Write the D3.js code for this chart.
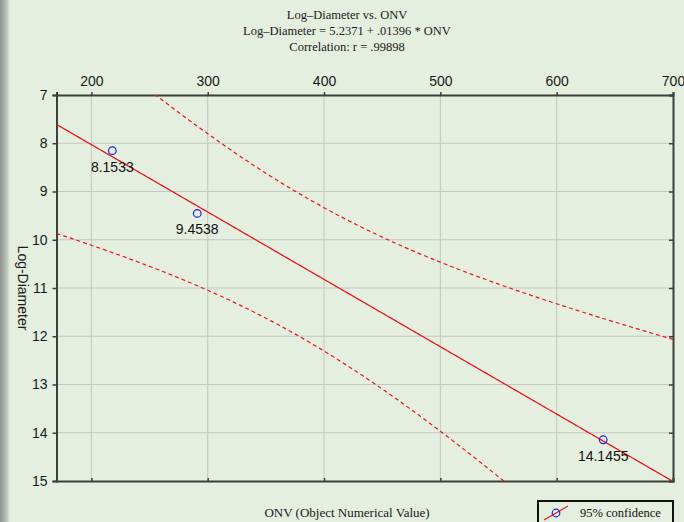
<!DOCTYPE html>
<html>
<head>
<meta charset="utf-8">
<script src="https://cdn.jsdelivr.net/npm/d3@7/dist/d3.min.js"></script>
<style>
  html, body { margin: 0; padding: 0; background: #e4efe0; }
  svg { display: block; }
</style>
</head>
<body>
<svg id="chart" width="684" height="522"></svg>
<script>
// Observations: ONV and measured log-diameter
const onv = [218, 291, 640];
const logDiameter = [8.1533, 9.4538, 14.1455];
const pointLabels = ["8.1533", "9.4538", "14.1455"];

// Fitted regression reported in the title
const intercept = 5.2371;
const slope = 0.01396;
const correlation = ".99898";
const tCrit = 12.706; // t(0.975, df = 1)

const xTicks = [200, 300, 400, 500, 600, 700];
const yTicks = [7, 8, 9, 10, 11, 12, 13, 14, 15];

const titleLines = [
  "Log\u2013Diameter vs. ONV",
  "Log\u2013Diameter = 5.2371 + .01396 * ONV",
  "Correlation: r = " + correlation
];

const W = 684, H = 522;
const m = { left: 56.5, right: 673, top: 95, bottom: 481 };

const svg = d3.select("#chart");

const x = d3.scaleLinear().domain([170, 700]).range([m.left, m.right]);
const y = d3.scaleLinear().domain([7, 15]).range([m.top, m.bottom]);

// background and left shading strip
const defs = svg.append("defs");
const grad = defs.append("linearGradient").attr("id", "edge").attr("x1", 0).attr("x2", 1);
grad.append("stop").attr("offset", 0).attr("stop-color", "#8b918b");
grad.append("stop").attr("offset", 0.6).attr("stop-color", "#b6bcb5");
grad.append("stop").attr("offset", 1).attr("stop-color", "#e4efe0");
svg.append("rect").attr("width", W).attr("height", H).attr("fill", "#e4efe0");
svg.append("rect").attr("width", 10).attr("height", H).attr("fill", "url(#edge)");

const clip = defs.append("clipPath").attr("id", "plotclip");
clip.append("rect").attr("x", m.left).attr("y", m.top)
  .attr("width", m.right - m.left).attr("height", m.bottom - m.top);

// titles
svg.append("g").selectAll("text").data(titleLines).join("text")
  .attr("x", 347).attr("y", (d, i) => 19 + i * 16)
  .attr("text-anchor", "middle")
  .attr("font-family", "Liberation Serif, Times New Roman, serif")
  .attr("font-size", 12.5).attr("fill", "#1a1a1a")
  .text(d => d);

// grid
const grid = svg.append("g").attr("stroke", "#c3c7bf").attr("stroke-width", 1);
grid.selectAll("line.vx").data(xTicks.filter(t => t < 700)).join("line")
  .attr("x1", d => x(d)).attr("x2", d => x(d))
  .attr("y1", m.top).attr("y2", m.bottom);
grid.selectAll("line.hy").data(yTicks.filter(t => t > 7 && t < 15)).join("line")
  .attr("x1", m.left).attr("x2", m.right)
  .attr("y1", d => y(d)).attr("y2", d => y(d));

// axes
const axisFont = "Liberation Sans, Arial, sans-serif";
const topAxis = svg.append("g").attr("transform", `translate(0,${m.top})`)
  .call(d3.axisTop(x).tickValues(xTicks).tickSize(3).tickPadding(6));
const bottomAxis = svg.append("g").attr("transform", `translate(0,${m.bottom})`)
  .call(d3.axisBottom(x).tickValues(xTicks).tickSize(-3).tickFormat(""));
const leftAxis = svg.append("g").attr("transform", `translate(${m.left},0)`)
  .call(d3.axisLeft(y).tickValues(yTicks).tickSize(4).tickPadding(5));
const rightAxis = svg.append("g").attr("transform", `translate(${m.right},0)`)
  .call(d3.axisRight(y).tickValues(yTicks).tickSize(-4).tickFormat(""));
[topAxis, bottomAxis, leftAxis, rightAxis].forEach(g => {
  g.select(".domain").attr("stroke", "#3d3f3b").attr("stroke-width", 2);
  g.selectAll(".tick line").attr("stroke", "#3d3f3b").attr("stroke-width", 1.5);
  g.selectAll(".tick text").attr("font-family", axisFont).attr("font-size", 14).attr("fill", "#1a1a1a");
});

// regression line and 95% confidence band
const n = onv.length;
const xMean = d3.mean(onv);
const sxx = d3.sum(onv, v => (v - xMean) ** 2);
const sse = d3.sum(onv, (v, i) => (logDiameter[i] - (intercept + slope * v)) ** 2);
const s = Math.sqrt(sse / (n - 2));
const grid100 = d3.range(170, 700.01, 2);
const fit = v => intercept + slope * v;
const half = v => tCrit * s * Math.sqrt(1 / n + (v - xMean) ** 2 / sxx);

const plot = svg.append("g").attr("clip-path", "url(#plotclip)");
const line = d3.line().x(d => x(d[0])).y(d => y(d[1]));

plot.append("path")
  .attr("d", line(grid100.map(v => [v, fit(v)])))
  .attr("fill", "none").attr("stroke", "#e8171b").attr("stroke-width", 1.3);
[-1, 1].forEach(sign => {
  plot.append("path")
    .attr("d", line(grid100.map(v => [v, fit(v) + sign * half(v)])))
    .attr("fill", "none").attr("stroke", "#e8171b").attr("stroke-width", 1.2)
    .attr("stroke-dasharray", "4,3");
});

// observations
svg.append("g").selectAll("circle").data(onv).join("circle")
  .attr("cx", d => x(d)).attr("cy", (d, i) => y(logDiameter[i]))
  .attr("r", 3.8).attr("fill", "none").attr("stroke", "#1f23e0").attr("stroke-width", 1.2);
svg.append("g").selectAll("text").data(onv).join("text")
  .attr("x", d => x(d)).attr("y", (d, i) => y(logDiameter[i]) + 21)
  .attr("text-anchor", "middle")
  .attr("font-family", axisFont).attr("font-size", 14).attr("fill", "#111")
  .text((d, i) => pointLabels[i]);

// axis titles
svg.append("text")
  .attr("x", 347).attr("y", 517).attr("text-anchor", "middle")
  .attr("font-family", "Liberation Serif, Times New Roman, serif")
  .attr("font-size", 13).attr("fill", "#1a1a1a")
  .text("ONV (Object Numerical Value)");
svg.append("text")
  .attr("transform", "translate(18,288) rotate(90)")
  .attr("text-anchor", "middle")
  .attr("font-family", axisFont).attr("font-size", 14).attr("fill", "#1a1a1a")
  .text("Log-Diameter");

// legend
const lg = svg.append("g");
lg.append("rect").attr("x", 538).attr("y", 501).attr("width", 135).attr("height", 26)
  .attr("fill", "#e4efe0").attr("stroke", "#111").attr("stroke-width", 2);
lg.append("line").attr("x1", 544).attr("y1", 520).attr("x2", 568).attr("y2", 506)
  .attr("stroke", "#e8171b").attr("stroke-width", 1.2);
lg.append("circle").attr("cx", 556).attr("cy", 513).attr("r", 3.8)
  .attr("fill", "none").attr("stroke", "#1f23e0").attr("stroke-width", 1.2);
lg.append("text").attr("x", 580).attr("y", 517)
  .attr("font-family", "Liberation Serif, Times New Roman, serif")
  .attr("font-size", 12.5).attr("fill", "#111").text("95% confidence");
</script>
</body>
</html>
